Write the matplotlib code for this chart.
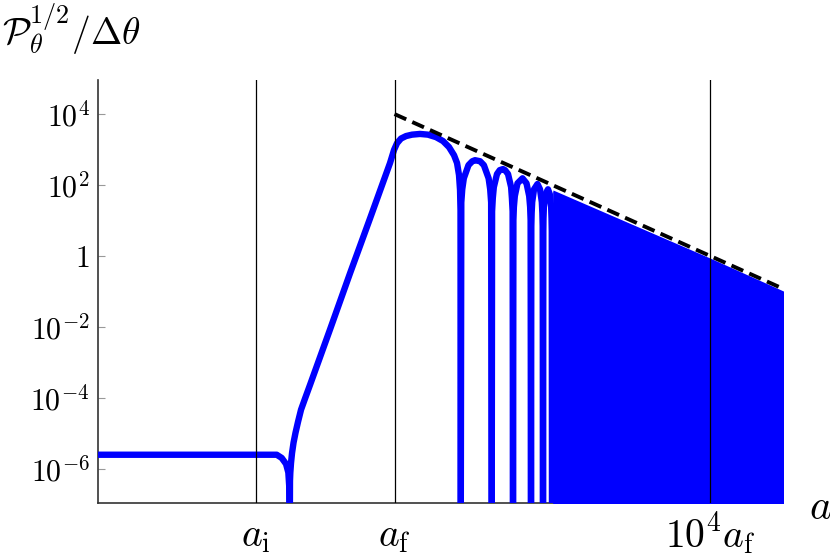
import numpy as np
import matplotlib
matplotlib.use("Agg")
import matplotlib.pyplot as plt
from matplotlib.ticker import NullLocator

plt.rcParams['mathtext.fontset'] = 'cm'
plt.rcParams['font.family'] = ['DejaVu Serif']

# ---------------- data (a in units of a_f, values as log10) ----------------
log_a_i = -1.75          # a_i / a_f
log_a_f = 0.0
log_a_late = 4.0         # 10^4 a_f
x_marks = [log_a_i, log_a_f, log_a_late]
x_mark_labels = [r'$a_{\rm i}$', r'$a_{\rm f}$', r'$10^4a_{\rm f}$']

y_tick_values = [1e4, 1e2, 1, 1e-2, 1e-4, 1e-6]
y_tick_labels = [r'$10^4$', r'$10^2$', r'$1$', r'$10^{-2}$', r'$10^{-4}$', r'$10^{-6}$']

# plateau and dip before the rise
plateau_log_a = [-3.90, -1.577, -1.492, -1.429, -1.374, -1.345, -1.334, -1.330]
plateau_log_P = [-5.60, -5.60, -5.60, -5.69, -5.86, -6.10, -6.48, -8.0]

# rise and first (wide) oscillation
rise_log_a = [-1.327, -1.324, -1.320, -1.311, -1.298, -1.279, -1.254, -1.222,
              -1.184, -1.134, -1.070, -0.817, -0.564, -0.310, -0.057, -0.006,
              0.032, 0.082, 0.146, 0.222, 0.323, 0.424, 0.526, 0.614,
              0.690, 0.754, 0.792, 0.817, 0.830, 0.836, 0.839]
rise_log_P = [-8.0, -6.34, -6.11, -5.83, -5.55, -5.26, -4.98, -4.67,
              -4.33, -4.02, -3.63, -2.07, -0.49, 1.06, 2.62, 2.99,
              3.18, 3.31, 3.38, 3.42, 3.44, 3.42, 3.35, 3.24,
              3.07, 2.84, 2.62, 2.28, 1.86, 1.29, -8.0]

# following resolved oscillations (one list per lobe)
lobe2_log_a = [0.839, 0.846, 0.858, 0.878, 0.937, 0.985, 1.020, 1.084, 1.132, 1.192, 1.212, 1.224, 1.231]
lobe2_log_P = [-8.0, 1.51, 1.88, 2.19, 2.56, 2.67, 2.70, 2.67, 2.56, 2.19, 1.88, 1.51, -8.0]
lobe3_log_a = [1.231, 1.236, 1.245, 1.258, 1.298, 1.333, 1.374, 1.400, 1.438, 1.477, 1.487, 1.496, 1.501]
lobe3_log_P = [-8.0, 1.26, 1.63, 1.94, 2.31, 2.42, 2.45, 2.42, 2.31, 1.94, 1.63, 1.26, -8.0]
lobe4_log_a = [1.501, 1.506, 1.512, 1.524, 1.558, 1.621, 1.672, 1.706, 1.718, 1.724, 1.729]
lobe4_log_P = [-8.0, 1.01, 1.38, 1.69, 2.05, 2.19, 2.05, 1.69, 1.38, 1.01, -8.0]
lobe5_log_a = [1.729, 1.733, 1.737, 1.744, 1.767, 1.811, 1.843, 1.866, 1.873, 1.877, 1.881]
lobe5_log_P = [-8.0, 0.84, 1.21, 1.52, 1.88, 2.03, 1.88, 1.52, 1.21, 0.84, -8.0]
lobe6_log_a = [1.881, 1.885, 1.887, 1.892, 1.910, 1.944, 1.967, 1.984, 1.989, 1.992, 1.995]
lobe6_log_P = [-8.0, 0.70, 1.06, 1.38, 1.74, 1.88, 1.74, 1.38, 1.06, 0.70, -8.0]

# densely oscillating region: upper envelope
dense_log_a = [2.003, 2.008, 4.0, 5.0]
dense_log_P = [1.80, 1.86, -0.06, -1.06]

# analytic envelope (dashed): P ~ 10^4 (a/a_f)^-1
env_log_a = [0.0, 5.0]
env_log_P = [4.0, -1.0]

x_limits = [-3.756, 4.921]
y_limits = [-6.96, 4.96]

# ---------------- figure ----------------
W, H = 830, 557
fig = plt.figure(figsize=(W / 100, H / 100), dpi=100)
ax = fig.add_axes([98 / W, (H - 503) / H, (783 - 98) / W, (503 - 80) / H])
ax.set_xscale('log')
ax.set_yscale('log')

def p(v):
    return 10 ** np.asarray(v, dtype=float)

blue = '#0000ff'
lw_blue = 4.6
for xs, ys in [(plateau_log_a, plateau_log_P), (rise_log_a, rise_log_P),
               (lobe2_log_a, lobe2_log_P), (lobe3_log_a, lobe3_log_P),
               (lobe4_log_a, lobe4_log_P), (lobe5_log_a, lobe5_log_P),
               (lobe6_log_a, lobe6_log_P)]:
    ax.plot(p(xs), p(ys), color=blue, lw=lw_blue, solid_joinstyle='round',
            solid_capstyle='butt', zorder=3)

ax.fill_between(p(dense_log_a), 10 ** -9.0, p(dense_log_P), color=blue,
                lw=0, zorder=3)

for xm in x_marks:
    ax.axvline(10 ** xm, color='black', lw=0.9, zorder=4)

ax.plot(p(env_log_a), p(env_log_P), color='black', lw=2.8,
        dashes=(3.3, 1.7), dash_capstyle='butt', zorder=5)

ax.set_xlim(p(x_limits))
ax.set_ylim(p(y_limits))

for s in ['top', 'right']:
    ax.spines[s].set_visible(False)
for s in ['left', 'bottom']:
    ax.spines[s].set_color('#333333')
    ax.spines[s].set_linewidth(1.2)

ax.xaxis.set_minor_locator(NullLocator())
ax.yaxis.set_minor_locator(NullLocator())
ax.set_yticks(y_tick_values)
ax.set_yticklabels(y_tick_labels)
ax.tick_params(axis='y', direction='in', length=5, width=0.8,
               color='#999999', pad=6, labelsize=21.5)

ax.set_xticks(p(x_marks))
ax.set_xticklabels(x_mark_labels)
ax.tick_params(axis='x', length=0, pad=31.5, labelsize=28.5)
for lab in ax.get_xticklabels():
    lab.set_verticalalignment('baseline')

fig.text(820 / W, 1 - 507 / H, r'$a$', ha='center', va='center', fontsize=30)
fig.text(2 / W, 1 - 45 / H, r'$\mathcal{P}_\theta^{1/2}/\Delta\theta$',
         ha='left', va='baseline', fontsize=27)

fig.savefig('out.png', dpi=100)
